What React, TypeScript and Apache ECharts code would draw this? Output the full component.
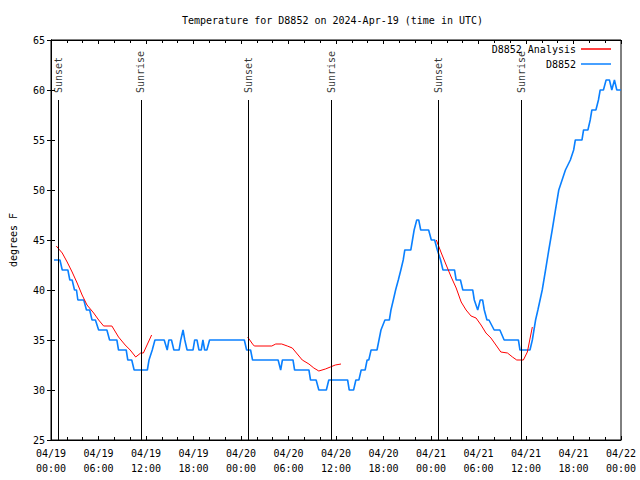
import React, { useEffect, useRef } from "react";
import * as echarts from "echarts";

const FONT = "'DejaVu Sans Mono', 'Liberation Mono', monospace";

const titleText = "Temperature for D8852 on 2024-Apr-19 (time in UTC)";
const xTickLabels = [
  "04/19\n00:00", "04/19\n06:00", "04/19\n12:00", "04/19\n18:00",
  "04/20\n00:00", "04/20\n06:00", "04/20\n12:00", "04/20\n18:00",
  "04/21\n00:00", "04/21\n06:00", "04/21\n12:00", "04/21\n18:00",
  "04/22\n00:00",
];

// hours since 2024-04-19 00:00 UTC
const sunHours = [0.92, 11.35, 24.96, 35.4, 48.97, 59.37];
const sunNames = ["Sunset", "Sunrise", "Sunset", "Sunrise", "Sunset", "Sunrise"];

const obsHours = [
  0.38, 1.13, 1.42, 2.13, 2.38, 2.67, 2.97, 3.22, 3.39, 4.14, 4.48, 4.89, 5.18, 5.61, 6.02, 7.06,
  7.4, 8.32, 8.53, 9.5, 9.7, 10.2, 10.5, 12.17, 12.38, 12.79, 13.13, 14.3, 14.68, 14.89, 15.22,
  15.52, 16.18, 16.39, 16.68, 16.9, 17.19, 17.94, 18.15, 18.44, 18.69, 18.98, 19.19, 19.41, 19.69,
  20.03, 24.42, 24.71, 25.21, 25.46, 28.69, 29.01, 29.23, 30.57, 30.77, 32.58, 32.78, 33.49, 33.83,
  34.78, 35.09, 37.47, 37.67, 38.22, 38.51, 38.89, 39.18, 39.68, 39.93, 40.14, 40.43, 41.18, 41.43,
  41.68, 42.18, 42.74, 42.94, 43.24, 43.53, 43.87, 44.19, 44.49, 44.69, 45.45, 45.66, 45.87, 46.2,
  46.45, 46.7, 47.7, 48.04, 48.46, 48.8, 49.21, 49.51, 50.97, 51.18, 51.72, 52.02, 53.27, 53.47,
  53.9, 54.22, 54.52, 54.73, 55.07, 55.32, 55.98, 56.7, 57.24, 59.04, 59.24, 60.5, 60.8, 61.21,
  61.5, 62.05, 62.47, 62.88, 63.31, 63.72, 64.14, 64.56, 64.98, 65.6, 66.02, 66.23, 67.07, 67.27,
  67.82, 68.11, 68.32, 68.83, 69.15, 69.37, 69.78, 70.12, 70.54, 70.84, 71.17, 71.47, 72.0,
];
const obsTemps = [
  43, 43, 42, 42, 41, 41, 40, 40, 39, 39, 38, 38, 37, 37, 36, 36,
  35, 35, 34, 34, 33, 33, 32, 32, 33, 34, 35, 35, 34, 35, 35,
  34, 34, 35, 36, 35, 34, 34, 35, 35, 34, 34, 35, 34, 34,
  35, 35, 34, 34, 33, 33, 32, 33, 33, 32, 32, 31, 31, 30,
  30, 31, 31, 30, 30, 31, 31, 32, 32, 33, 33, 34, 34, 35,
  36, 37, 37, 38, 39, 40, 41, 42, 43, 44, 44, 45, 46, 47,
  47, 46, 46, 45, 45, 44, 43, 42, 42, 41, 41, 40, 40, 39,
  38, 39, 39, 38, 37, 37, 36, 36, 35, 35, 34, 34, 35, 37,
  38, 40, 42, 44, 46, 48, 50, 51, 52, 53, 54, 55, 55, 56,
  56, 57, 58, 58, 59, 60, 60, 61, 61, 60, 61, 60, 60,
];

const ana1Hours = [0.66, 1.42, 2.04, 2.67, 3.3, 3.93, 4.55, 5.39, 6.02, 6.65, 7.69, 8.53, 9.37, 10.0, 10.7, 11.33, 11.67, 12.71];
const ana1Temps = [44.4, 43.7, 42.8, 41.8, 40.7, 39.5, 38.5, 37.7, 37.0, 36.4, 36.4, 35.3, 34.5, 34.0, 33.3, 33.7, 33.7, 35.5];
const ana2Hours = [24.84, 25.46, 25.68, 27.89, 28.39, 29.14, 29.85, 30.48, 31.11, 31.74, 32.58, 33.2, 33.83, 34.66, 35.29, 35.91, 36.63];
const ana2Temps = [35.3, 34.6, 34.4, 34.4, 34.6, 34.6, 34.4, 34.2, 33.6, 33.0, 32.6, 32.2, 31.9, 32.1, 32.3, 32.5, 32.6];
const ana3Hours = [48.67, 49.3, 49.92, 50.55, 51.18, 51.81, 52.43, 53.06, 53.69, 54.32, 54.94, 55.57, 56.2, 56.82, 57.66, 58.29, 58.83, 59.67, 60.17, 60.8];
const ana3Temps = [45.0, 43.7, 42.5, 41.3, 40.2, 38.8, 38.0, 37.4, 37.2, 36.5, 35.7, 35.2, 34.5, 33.8, 33.7, 33.3, 33.0, 33.0, 33.8, 36.3];

const zip = (a: number[], b: number[]) => a.map((v, i) => [v, b[i]]);

export default function App() {
  const ref = useRef<HTMLDivElement>(null);
  useEffect(() => {
    if (!ref.current) return;
    const chart = echarts.init(ref.current, null, { renderer: "svg" });
    const txt = { fontFamily: FONT, fontSize: 10, color: "#000" };
    const xBase = {
      type: "value",
      min: 0,
      max: 72,
      interval: 6,
      axisLine: { show: true, lineStyle: { color: "#000", width: 1 } },
      axisTick: { show: true, inside: true, length: 4, lineStyle: { color: "#000" } },
      minorTick: { show: true, splitNumber: 3, length: 3, lineStyle: { color: "#000" } },
      splitLine: { show: false },
      minorSplitLine: { show: false },
    };
    const yBase = {
      type: "value",
      min: 25,
      max: 65,
      interval: 5,
      axisLine: { show: true, lineStyle: { color: "#000", width: 1 } },
      axisTick: { show: true, inside: true, length: 4, lineStyle: { color: "#000" } },
      splitLine: { show: false },
    };
    const anaStyle = {
      type: "line",
      name: "D8852 Analysis",
      showSymbol: false,
      symbol: "none",
      color: "#ff0000",
      lineStyle: { color: "#ff0000", width: 1 },
      z: 4,
    };
    chart.setOption({
      animation: false,
      title: {
        text: titleText,
        left: 182,
        top: 15,
        padding: 0,
        textStyle: { ...txt, fontWeight: "normal" },
      },
      legend: {
        data: [
          { name: "D8852 Analysis", icon: "rect" },
          { name: "D8852", icon: "rect" },
        ],
        orient: "vertical",
        right: 29,
        top: 43,
        align: "right",
        itemWidth: 30,
        itemHeight: 1.5,
        itemGap: 3,
        padding: 0,
        textStyle: { ...txt, lineHeight: 12 },
      },
      grid: { left: 47, right: 19, top: 40, bottom: 40, show: true, borderColor: "#000", borderWidth: 1 },
      xAxis: [
        {
          ...xBase,
          position: "bottom",
          axisLabel: {
            ...txt,
            margin: 6,
            lineHeight: 15,
            formatter: (v: number) => xTickLabels[Math.round(v / 6)] ?? "",
          },
        },
        { ...xBase, position: "top", axisLabel: { show: false } },
      ],
      yAxis: [
        {
          ...yBase,
          position: "left",
          name: "degrees F",
          nameLocation: "middle",
          nameGap: 33,
          nameTextStyle: txt,
          axisLabel: { ...txt, margin: 6 },
        },
        { ...yBase, position: "right", axisLabel: { show: false } },
      ],
      series: [
        {
          type: "scatter",
          name: "sun",
          symbolSize: 1,
          itemStyle: { color: "rgba(0,0,0,0)" },
          data: sunHours.map((h, i) => [h, 59.7, sunNames[i]]),
          label: {
            show: true,
            position: "inside",
            rotate: 90,
            align: "left",
            verticalAlign: "middle",
            ...txt,
            formatter: (p: any) => p.value[2],
          },
          markLine: {
            silent: true,
            symbol: ["none", "none"],
            label: { show: false },
            lineStyle: { color: "#000", width: 1, type: "solid" },
            data: sunHours.map((h) => [{ coord: [h, 25] }, { coord: [h, 59.0] }]),
          },
          z: 2,
        },
        {
          type: "line",
          name: "D8852",
          showSymbol: false,
          symbol: "none",
          color: "#0a80ff",
          lineStyle: { color: "#0a80ff", width: 1.6 },
          data: zip(obsHours, obsTemps),
          z: 3,
        },
        { ...anaStyle, data: zip(ana1Hours, ana1Temps) },
        { ...anaStyle, data: zip(ana2Hours, ana2Temps) },
        { ...anaStyle, data: zip(ana3Hours, ana3Temps) },
      ],
    });
    return () => chart.dispose();
  }, []);
  return (
    <div
      ref={ref}
      style={{ position: "fixed", left: 0, top: 0, width: 640, height: 480, background: "#fff" }}
    />
  );
}
